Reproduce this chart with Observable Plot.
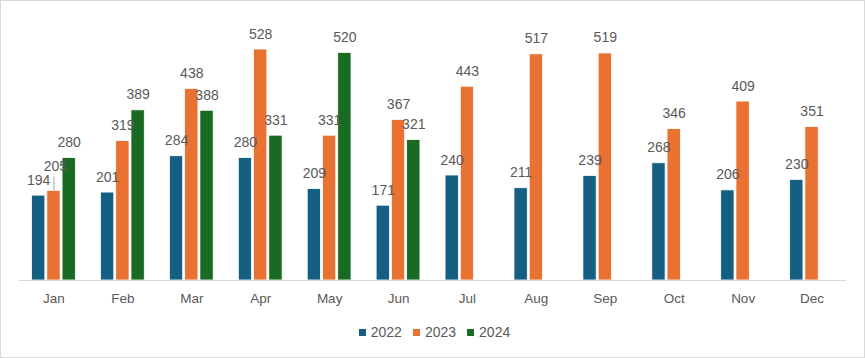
<!DOCTYPE html>
<html>
<head>
<meta charset="utf-8">
<script src="https://cdn.jsdelivr.net/npm/d3@7"></script>
<script src="https://cdn.jsdelivr.net/npm/@observablehq/plot@0.6"></script>
<style>
  html, body { margin: 0; padding: 0; background: #fff; }
  #wrap { width: 863px; height: 356px; border: 1px solid #d9d9d9; position: relative; font-family: "Liberation Sans", Arial, sans-serif; }
  #legend { position: absolute; top: 323px; left: 2px; width: 863px; display: flex; justify-content: center; gap: 11px; font-size: 14px; line-height: 16px; color: #595959; }
  #legend span.item { display: inline-flex; align-items: center; gap: 5px; }
  #legend span.sw { width: 7px; height: 7px; display: inline-block; }
</style>
</head>
<body>
<div id="wrap"><div id="chart"></div><div id="legend"></div></div>
<script>
const months = ["Jan","Feb","Mar","Apr","May","Jun","Jul","Aug","Sep","Oct","Nov","Dec"];
const years = ["2022","2023","2024"];
const v2022 = [194,201,284,280,209,171,240,211,239,268,206,230];
const v2023 = [205,319,438,528,331,367,443,517,519,346,409,351];
const v2024 = [280,389,388,331,520,321,null,null,null,null,null,null];
const colors = ["#156082","#E97132","#196B24"];

const series = [v2022, v2023, v2024];
const offsets = [-15.25, 0, 15.25];
const textColor = "#595959";

function rows(vals) {
  return months.map((m, i) => ({month: m, value: vals[i]})).filter(d => d.value != null);
}

const marks = [];
series.forEach((vals, k) => {
  marks.push(Plot.barY(rows(vals), {
    x: "month", y: "value", fill: colors[k], dx: offsets[k],
    insetLeft: 27.8, insetRight: 27.8, stroke: "white", strokeWidth: 0.8
  }));
});
marks.push(Plot.ruleY([0], {stroke: "#d9d9d9", strokeWidth: 1}));
series.forEach((vals, k) => {
  const data = rows(vals);
  const special = d => k === 1 && d.month === "Jan";
  marks.push(Plot.text(data.filter(d => !special(d)), {
    x: "month", y: "value", text: d => String(d.value), dx: offsets[k], dy: -11,
    lineAnchor: "bottom", fill: textColor, fontSize: 14
  }));
  const sp = data.filter(special);
  if (sp.length) {
    marks.push(Plot.ruleX(sp, {x: "month", y1: "value", y2: "value", dx: offsets[k], insetBottom: 14, stroke: "#a6a6a6", strokeWidth: 1}));
    marks.push(Plot.text(sp, {
      x: "month", y: "value", text: d => String(d.value), dx: offsets[k] + 1.5, dy: -20,
      lineAnchor: "bottom", fill: textColor, fontSize: 14
    }));
  }
});

const chart = Plot.plot({
  width: 863,
  height: 310,
  marginLeft: 18,
  marginRight: 18,
  marginTop: 16.5,
  marginBottom: 31,
  style: {fontFamily: "Liberation Sans, Arial, sans-serif", color: textColor, background: "white"},
  x: {domain: months, padding: 0, round: false, label: null},
  y: {domain: [0, 600], axis: null},
  marks: [
    ...marks,
    Plot.axisX({tickSize: 0, tickPadding: 13, fontSize: 13.5, fill: textColor, label: null})
  ]
});
document.getElementById("chart").appendChild(chart);

const legend = document.getElementById("legend");
years.forEach((y, i) => {
  const item = document.createElement("span");
  item.className = "item";
  const sw = document.createElement("span");
  sw.className = "sw";
  sw.style.background = colors[i];
  item.appendChild(sw);
  item.appendChild(document.createTextNode(y));
  legend.appendChild(item);
});
</script>
</body>
</html>
